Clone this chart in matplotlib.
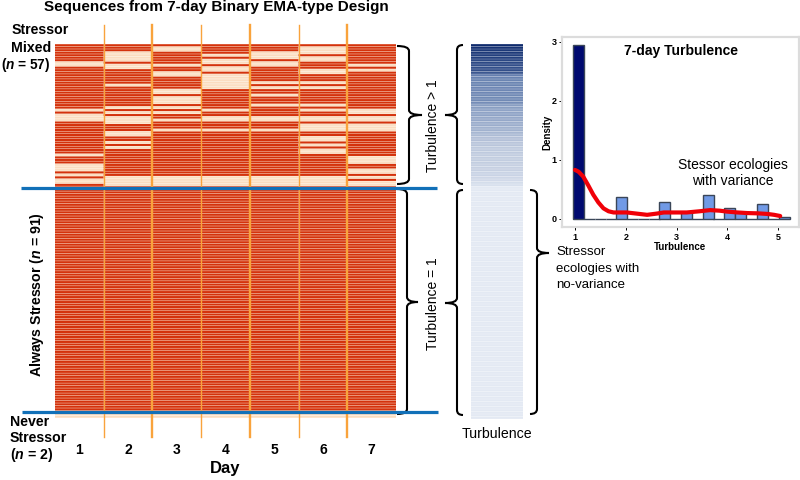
"""Stressor sequence heatmap, turbulence strip and turbulence histogram."""
import matplotlib

matplotlib.use("Agg")
import matplotlib.pyplot as plt
from matplotlib.colors import LinearSegmentedColormap
from matplotlib.patches import PathPatch
from matplotlib.path import Path

plt.rcParams["font.family"] = ["Liberation Sans", "DejaVu Sans"]
plt.rcParams["mathtext.fontset"] = "custom"
plt.rcParams["mathtext.it"] = "Liberation Sans:italic:bold"
plt.rcParams["mathtext.rm"] = "Liberation Sans:bold"

N_ROWS = 150
days = [1, 2, 3, 4, 5, 6, 7]

# row indices (0 = top) with no stressor reported, per day
no_stress_d1 = [7, 8, 26, 28, 29, 30, 44, 48, 49, 50, 52, 54, 55]
no_stress_d2 = [3, 4, 5, 6, 8, 9, 16, 25, 27, 29, 30, 31, 35, 36, 39, 41, 53, 54, 55, 56]
no_stress_d3 = [1, 2, 8, 11, 12, 18, 19, 21, 22, 23, 25, 27, 30, 34, 53, 54, 55, 56]
no_stress_d4 = [4, 6, 7, 9, 10, 12, 13, 14, 15, 16, 17, 26, 29, 30, 34, 53, 54, 55, 56]
no_stress_d5 = [3, 4, 5, 7, 8, 15, 17, 20, 24, 29, 30, 34, 53, 54, 55, 56]
no_stress_d6 = [1, 2, 3, 5, 6, 10, 11, 15, 17, 24, 26, 29, 30, 32, 33, 34, 37, 38, 40,
                42, 43, 53, 54, 55, 56]
no_stress_d7 = [8, 10, 26, 27, 29, 30, 32, 33, 34, 45, 46, 47, 50, 51, 53, 55, 56]
never_rows = [148, 149]

# turbulence of each sequence, top to bottom
turbulence_mixed = [5.2, 5.1, 5.0, 5.0, 4.9, 4.9, 4.8, 4.8, 4.7, 4.7, 4.7, 4.6,
                    3.9, 3.8, 3.7, 3.7, 3.7, 3.6, 3.6, 3.6, 3.5, 3.5, 3.5, 3.4,
                    2.9, 2.9, 2.8, 2.8, 2.8, 2.7, 2.7, 2.6, 2.6, 2.5, 2.5, 2.4,
                    2.3, 2.2, 2.2, 2.1, 2.1, 2.0, 2.0, 2.0, 1.9, 1.9, 1.9, 1.9,
                    1.8, 1.8, 1.8, 1.7, 1.7, 1.6, 1.5, 1.4, 1.3]
turbulence_flat = [1.0] * 93

# histogram of turbulence
hist_centers = [1.07, 1.28, 1.50, 1.71, 1.92, 2.13, 2.35, 2.56, 2.77, 2.98,
                3.19, 3.41, 3.62, 3.83, 4.05, 4.26, 4.47, 4.69, 4.90, 5.12]
hist_heights = [2.95, 0, 0, 0, 0.38, 0, 0, 0, 0.28, 0,
                0.11, 0, 0.41, 0, 0.19, 0.11, 0, 0.25, 0, 0.03]
kde_x = [1.00, 1.07, 1.16, 1.26, 1.36, 1.46, 1.56, 1.66, 1.76, 1.90, 2.02, 2.22, 2.42,
         2.60, 2.75, 3.00, 3.20, 3.45, 3.66, 3.85, 3.99, 4.20, 4.39, 4.60, 4.79, 4.92, 5.04]
kde_y = [0.83, 0.80, 0.72, 0.57, 0.41, 0.28, 0.18, 0.13, 0.11, 0.11, 0.11, 0.09, 0.07,
         0.09, 0.11, 0.11, 0.11, 0.13, 0.15, 0.14, 0.125, 0.11, 0.10, 0.095, 0.085, 0.07, 0.05]

W, H = 800, 480
RED = "#d4320c"
LIGHT = "#fdeedd"
PEACH = "#fbdcbf"
ORANGE = "#f9a33c"
BLUE = "#1170b8"


def px_axes(fig, x0, y0, x1, y1):
    # axes from pixel box, y counted from the top of the picture
    return fig.add_axes([x0 / W, 1 - y1 / H, (x1 - x0) / W, (y1 - y0) / H])


def brace(ax, x_spine, x_end, x_tip, y0, y1, y_tip, lw=1.5):
    r = 5
    verts = [(x_end, y0), (x_spine, y0), (x_spine, y0 + r),
             (x_spine, y_tip - r),
             (x_spine, y_tip), (x_tip, y_tip), (x_spine, y_tip), (x_spine, y_tip + r),
             (x_spine, y1 - r),
             (x_spine, y1), (x_end, y1)]
    codes = [Path.MOVETO, Path.CURVE3, Path.CURVE3,
             Path.LINETO,
             Path.CURVE3, Path.CURVE3, Path.CURVE3, Path.CURVE3,
             Path.LINETO,
             Path.CURVE3, Path.CURVE3]
    ax.add_patch(PathPatch(Path(verts, codes), fc="none", ec="black", lw=lw))


fig = plt.figure(figsize=(8, 4.8), dpi=100)

# sequence heatmap
ax = px_axes(fig, 55, 44, 396, 418)
ax.set_facecolor(LIGHT)
ax.set_xlim(0.5, 7.5)
ax.set_ylim(N_ROWS, 0)
no_stress = [no_stress_d1, no_stress_d2, no_stress_d3, no_stress_d4,
             no_stress_d5, no_stress_d6, no_stress_d7]
for day, absent in zip(days, no_stress):
    off_rows = [r for r in range(N_ROWS) if r in absent or r in never_rows]
    on_rows = [r for r in range(N_ROWS) if r not in off_rows]
    off = ax.barh([r + 0.5 for r in off_rows], 1, left=day - 0.5, height=0.6, color=PEACH, lw=0)
    on = ax.barh([r + 0.5 for r in on_rows], 1, left=day - 0.5, height=0.82, color=RED, lw=0)
    for patch in list(off) + list(on):
        patch.set_snap(False)
for day, lw in zip(days[:-1], [1, 1.7, 1, 1.7, 1, 1.7]):
    ax.plot([day + 0.5, day + 0.5], [-7.6, 157.6], color=ORANGE, lw=lw, clip_on=False, zorder=3)
ax.set_xticks(days)
ax.set_xticklabels(days, fontsize=10, fontweight="bold")
ax.tick_params(axis="x", length=0, pad=18)
ax.set_yticks([])
ax.set_xlabel("Day", fontsize=12, fontweight="bold", labelpad=3)
for s in ax.spines.values():
    s.set_visible(False)

# turbulence strip
turb_cmap = LinearSegmentedColormap.from_list(
    "turb", ["#e3e9f3", "#bcc8dd", "#7d94bc", "#5d79ab", "#0e2a6c"])
strip = px_axes(fig, 471, 44, 523, 419)
turbulence = turbulence_mixed + turbulence_flat
for r, t in enumerate(turbulence):
    bars = strip.barh(r + 0.5, 1, height=0.9, color=turb_cmap((t - 1) / 4.2), lw=0)
    bars[0].set_snap(False)
strip.set_xlim(0, 1)
strip.set_ylim(N_ROWS, 0)
strip.axis("off")

# histogram inset
hax = px_axes(fig, 562, 37, 799, 227)
bar_colors = ["#000a70"] + ["#719ae6"] * (len(hist_centers) - 1)
hax.bar(hist_centers, hist_heights, width=0.2137, color=bar_colors, edgecolor="#3a4658", lw=1)
hax.plot(kde_x, kde_y, color="#f00008", lw=3, solid_capstyle="round", zorder=4)
hax.set_xlim(0.744, 5.41)
hax.set_ylim(-0.136, 3.08)
hax.set_xticks([1, 2, 3, 4, 5])
hax.set_yticks([0, 1, 2, 3])
hax.tick_params(labelsize=6.5, length=2, width=0.7, pad=2)
for lab in hax.get_xticklabels() + hax.get_yticklabels():
    lab.set_fontweight("bold")
hax.set_xlabel("Turbulence", fontsize=7, fontweight="bold", labelpad=0)
hax.set_ylabel("Density", fontsize=7, fontweight="bold", labelpad=-1)
for s in hax.spines.values():
    s.set_color("#dcdcdc")
    s.set_linewidth(1.6)
hax.text(0.5, 0.925, "7-day Turbulence", transform=hax.transAxes, ha="center", va="center",
         fontsize=10, fontweight="bold")
hax.text(0.72, 0.283, "Stessor ecologies\nwith variance", transform=hax.transAxes,
         ha="center", va="center", fontsize=10, linespacing=1.2)

# labels and annotations, in picture pixels
over = fig.add_axes([0, 0, 1, 1], zorder=5)
over.set_xlim(0, W)
over.set_ylim(H, 0)
over.axis("off")
over.patch.set_alpha(0)

over.text(216, 7, "Sequences from 7-day Binary EMA-type Design", ha="center", va="center",
          fontsize=11, fontweight="bold")
over.text(12, 30, "Stressor", ha="left", va="center", fontsize=10.2, fontweight="bold")
over.text(51, 48, "Mixed", ha="right", va="center", fontsize=10.2, fontweight="bold")
over.text(50, 65, r"($\it{n}$ = 57)", ha="right", va="center", fontsize=9.8, fontweight="bold")
over.text(37, 295, r"Always Stressor ($\it{n}$ = 91)", rotation=90, ha="center", va="center",
          fontsize=10.2, fontweight="bold")
over.text(10, 422, "Never", ha="left", va="center", fontsize=10.2, fontweight="bold")
over.text(10, 438, "Stressor", ha="left", va="center", fontsize=10.2, fontweight="bold")
over.text(10, 455, r"($\it{n}$ = 2)", ha="left", va="center", fontsize=10.2, fontweight="bold")

over.plot([21, 437], [187.5, 187.5], color=BLUE, lw=2.3, solid_capstyle="butt")
over.plot([22, 438], [412, 412], color=BLUE, lw=2.3, solid_capstyle="butt")

brace(over, 409, 397, 422, 46, 184, 115)
brace(over, 407, 397, 418, 189, 414, 302)
brace(over, 457, 463, 445, 45, 184, 115)
brace(over, 457, 463, 445, 190, 415, 303)
brace(over, 537, 530, 549, 190, 414, 253)

over.text(433, 126, "Turbulence > 1", rotation=90, ha="center", va="center", fontsize=10)
over.text(433, 304, "Turbulence = 1", rotation=90, ha="center", va="center", fontsize=10)
over.text(497, 434, "Turbulence", ha="center", va="center", fontsize=10.2)
over.text(556, 252, "Stressor", ha="left", va="center", fontsize=9.5)
over.text(556, 269, "ecologies with", ha="left", va="center", fontsize=9.5)
over.text(556, 285, "no-variance", ha="left", va="center", fontsize=9.5)

fig.savefig("out.png", dpi=100)
